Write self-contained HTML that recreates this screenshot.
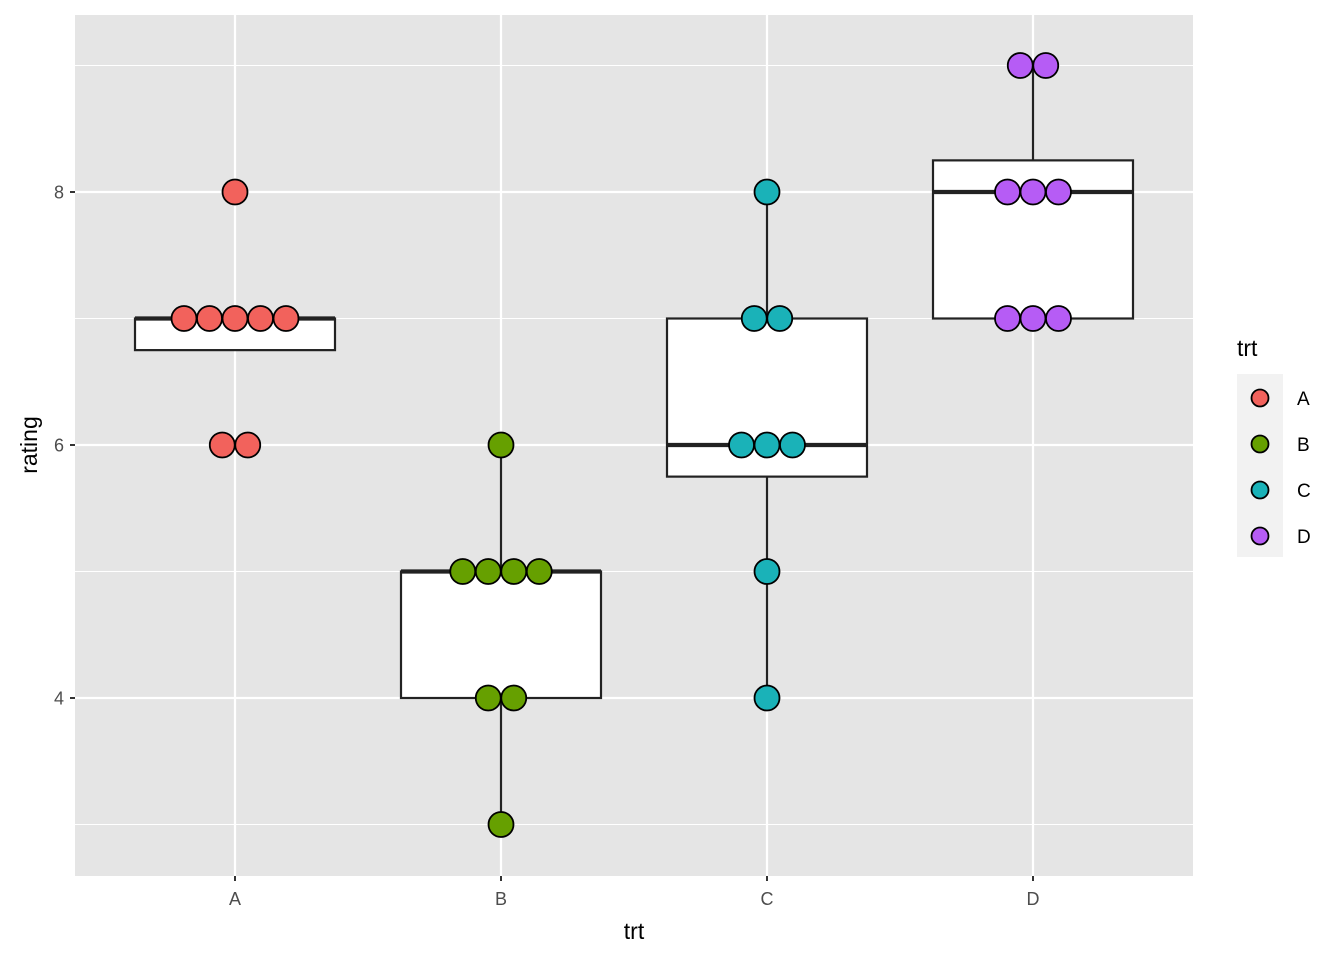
<!DOCTYPE html>
<html><head><meta charset="utf-8"><style>body{margin:0;background:#fff}svg{display:block;font-family:"Liberation Sans",Arial,sans-serif}</style></head>
<body>
<svg id="chart" width="1344" height="960" viewBox="0 0 1344 960"></svg>
<script>
const categories = ["A","B","C","D"];
const colors = ["#F2625C","#66A000","#1AB2B8","#B65CF5"];
const ratingsA = [8,7,7,7,7,7,6,6];
const ratingsB = [6,5,5,5,5,4,4,3];
const ratingsC = [8,7,7,6,6,6,5,4];
const ratingsD = [9,9,8,8,8,7,7,7];
const series = [ratingsA, ratingsB, ratingsC, ratingsD];
const yMajor = [4,6,8];
const yMinor = [3,5,7,9];

const NS = "http://www.w3.org/2000/svg";
const svg = document.getElementById("chart");
const P = {l:75, r:1193, t:15, b:876};
const yScale = v => 192 + (8 - v) * 126.5;
const xScale = i => 235 + i * 266;
function mk(tag, attrs, parent, text){
  const e = document.createElementNS(NS, tag);
  for (const k in attrs) e.setAttribute(k, attrs[k]);
  if (text !== undefined) e.textContent = text;
  (parent || svg).appendChild(e);
  return e;
}
function quant(arr, p){
  const s = arr.slice().sort((a,b)=>a-b);
  const h = (s.length - 1) * p, lo = Math.floor(h), hi = Math.ceil(h);
  return s[lo] + (s[hi] - s[lo]) * (h - lo);
}
let e = mk("rect",{x:P.l,y:P.t,width:P.r-P.l,height:P.b-P.t,fill:"#E5E5E5"});


yMinor.forEach(v=>{
  const l = mk("line",{x1:P.l,x2:P.r,y1:yScale(v),y2:yScale(v),stroke:"#fff","stroke-width":1.1});
  
  
});
yMajor.forEach(v=>{
  const l = mk("line",{x1:P.l,x2:P.r,y1:yScale(v),y2:yScale(v),stroke:"#fff","stroke-width":2.2});
  
  
  const t = mk("line",{x1:70,x2:75,y1:yScale(v),y2:yScale(v),stroke:"#333","stroke-width":2});
  
  
  const tx = mk("text",{x:64,y:yScale(v)+6.5,"text-anchor":"end","font-size":18,fill:"#4D4D4D"},null,String(v));
  
  
});
categories.forEach((c,i)=>{
  const l = mk("line",{x1:xScale(i),x2:xScale(i),y1:P.t,y2:P.b,stroke:"#fff","stroke-width":2.2});
  
  
  const t = mk("line",{x1:xScale(i),x2:xScale(i),y1:876,y2:881,stroke:"#333","stroke-width":2});
  
  
  const tx = mk("text",{x:xScale(i),y:905,"text-anchor":"middle","font-size":18,fill:"#4D4D4D"},null,c);
  
  
});
series.forEach((d,i)=>{
  const q1 = quant(d,0.25), q3 = quant(d,0.75), med = quant(d,0.5), iqr = q3-q1;
  const inR = d.filter(v=>v>=q1-1.5*iqr && v<=q3+1.5*iqr);
  const lo = Math.min(...inR), hi = Math.max(...inR);
  const g = mk("g",{});
  
  
  const x = xScale(i);
  mk("line",{x1:x,x2:x,y1:yScale(hi),y2:yScale(q3),stroke:"#222","stroke-width":2.2},g);
  mk("line",{x1:x,x2:x,y1:yScale(q1),y2:yScale(lo),stroke:"#222","stroke-width":2.2},g);
  mk("rect",{x:x-100,y:yScale(q3),width:200,height:yScale(q1)-yScale(q3),fill:"#fff",stroke:"#222","stroke-width":2.2},g);
  mk("line",{x1:x-100,x2:x+100,y1:yScale(med),y2:yScale(med),stroke:"#222","stroke-width":4.2},g);
});
series.forEach((d,i)=>{
  const counts = {};
  d.forEach(v=>counts[v]=(counts[v]||0)+1);
  Object.keys(counts).forEach(k=>{
    const n = counts[k];
    for(let j=0;j<n;j++){
      const cx = xScale(i) + (j-(n-1)/2)*25.5;
      const c = mk("circle",{cx:cx,cy:yScale(+k),r:12.5,fill:colors[i],stroke:"#000","stroke-width":1.8});
      
      
    }
  });
});
e = mk("text",{x:634,y:939,"text-anchor":"middle","font-size":23,fill:"#000"},null,"trt");


e = mk("text",{x:37,y:445,"text-anchor":"middle","font-size":23,fill:"#000",transform:"rotate(-90 37 445)"},null,"rating");


e = mk("text",{x:1237,y:356,"font-size":23,fill:"#000"},null,"trt");


e = mk("rect",{x:1237,y:374,width:46,height:183,fill:"#F2F2F2"});


categories.forEach((c,i)=>{
  const g = mk("g",{});
  
  
  const y = 398 + i*46;
  mk("circle",{cx:1260,cy:y,r:8.5,fill:colors[i],stroke:"#000","stroke-width":1.8},g);
  mk("text",{x:1297,y:y+7,"font-size":19,fill:"#000"},g,c);
});
</script>
</body></html>
